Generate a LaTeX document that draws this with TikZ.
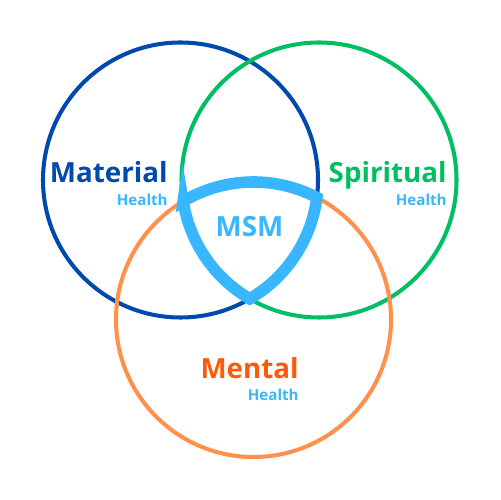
\documentclass[tikz,border=0pt]{standalone}
\usepackage{fontspec}
\setmainfont{Open Sans}
\usepackage{tikz}
\definecolor{matblue}{HTML}{004AAD}
\definecolor{spgreen}{HTML}{00BF63}
\definecolor{mentorange}{HTML}{FF914D}
\definecolor{mentred}{HTML}{FF5A0A}
\definecolor{msmblue}{HTML}{38B6FF}
\tikzset{
  ring/.style={line width=2.3pt},
  big/.style={inner sep=0pt,anchor=base east,font=\fontsize{15.8}{16}\selectfont\bfseries},
  small/.style={inner sep=0pt,anchor=base east,text=msmblue,font=\fontsize{8.6}{9}\selectfont\bfseries}
}
\begin{document}
\begin{tikzpicture}[x=0.02cm,y=0.02cm]
\useasboundingbox (0,0) rectangle (500,500);
\draw[ring,matblue] (180.5,320) circle (137.5);
\draw[ring,spgreen] (319,320) circle (137.5);
\draw[ring,mentorange] (253.5,180.5) circle (137.5);
% triple overlap
\draw[msmblue,line width=6.6pt,line join=miter]
  (183.16,298.65) arc[start angle=120.77,end angle=62.55,radius=137.5]
  arc[start angle=-7.31,end angle=-59.76,radius=137.5]
  arc[start angle=239.76,end angle=188.93,radius=137.5] -- cycle;
\node[big,text=matblue] (mat) at (168,317) {Material};
\node[small] (math) at (168,294) {Health};
\node[big,text=spgreen] (spi) at (447,317) {Spiritual};
\node[small] (spih) at (447,294) {Health};
\node[big,text=msmblue,anchor=base] (msm) at (249.5,263) {MSM};
\node[big,text=mentred] (men) at (299,121) {Mental};
\node[small] (menh) at (299,99) {Health};
\end{tikzpicture}
\end{document}
